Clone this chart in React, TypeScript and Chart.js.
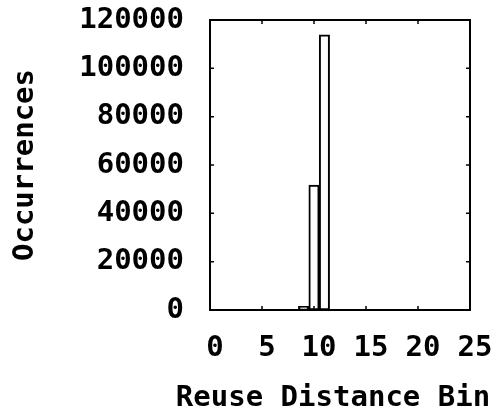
import React, { useEffect, useRef } from "react";
import { Chart, registerables } from "chart.js";

Chart.register(...registerables);

const bins: number[] = [9, 10, 11];
const occurrences: number[] = [1500, 51700, 113900];
const xTicks: number[] = [0, 5, 10, 15, 20, 25];
const yTicks: number[] = [0, 20000, 40000, 60000, 80000, 100000, 120000];
const xTitle = "Reuse Distance Bin";
const yTitle = "Occurrences";

const FONT = "'DejaVu Sans Mono', 'Liberation Mono', monospace";

const framePlugin = {
  id: "frame",
  afterDraw(chart: any) {
    const { ctx, chartArea, scales } = chart;
    const { left, right, top, bottom } = chartArea;
    ctx.save();
    ctx.strokeStyle = "#000";
    ctx.lineWidth = 2;
    ctx.strokeRect(left, top, right - left, bottom - top);
    const tl = 4;
    ctx.lineWidth = 1.5;
    ctx.beginPath();
    for (const v of yTicks) {
      const y = scales.y.getPixelForValue(v);
      ctx.moveTo(left, y);
      ctx.lineTo(left + tl, y);
      ctx.moveTo(right, y);
      ctx.lineTo(right - tl, y);
    }
    for (const v of xTicks) {
      const x = scales.x.getPixelForValue(v);
      ctx.moveTo(x, bottom);
      ctx.lineTo(x, bottom - tl);
      ctx.moveTo(x, top);
      ctx.lineTo(x, top + tl);
    }
    ctx.stroke();
    // x-axis title
    ctx.fillStyle = "#000";
    ctx.font = `bold 29px ${FONT}`;
    ctx.textAlign = "center";
    ctx.textBaseline = "middle";
    ctx.fillText(xTitle, (left + right) / 2 - 7, 398);
    ctx.restore();
  },
};

export default function App() {
  const ref = useRef<HTMLCanvasElement | null>(null);
  useEffect(() => {
    if (!ref.current) return;
    const chart = new Chart(ref.current, {
      type: "bar",
      data: {
        datasets: [
          {
            data: bins.map((b, i) => ({ x: b, y: occurrences[i] })),
            backgroundColor: "#ffffff",
            borderColor: "#000000",
            borderWidth: 2,
            barPercentage: 1,
            categoryPercentage: 1,
            borderSkipped: false,
          },
        ],
      },
      plugins: [framePlugin],
      options: {
        responsive: false,
        animation: false,
        devicePixelRatio: 1,
        layout: { padding: { top: 20, right: 34, left: 0, bottom: 0 } },
        plugins: { legend: { display: false }, tooltip: { enabled: false } },
        scales: {
          x: {
            type: "linear",
            min: 0,
            max: 25,
            offset: false,
            grid: { display: false, offset: false },
            border: { display: false },
            afterBuildTicks: (s: any) => {
              s.ticks = xTicks.map((v) => ({ value: v }));
            },
            afterFit: (s: any) => {
              s.height = 103;
              s.paddingLeft = 0;
              s.paddingRight = 0;
            },
            ticks: {
              color: "#000",
              padding: 13,
              labelOffset: 5,
              maxRotation: 0,
              autoSkip: false,
              font: { family: FONT, size: 29, weight: "bold", lineHeight: 1.2 },
            },
          },
          y: {
            min: 0,
            max: 120000,
            grid: { display: false },
            border: { display: false },
            afterBuildTicks: (s: any) => {
              s.ticks = yTicks.map((v) => ({ value: v }));
            },
            afterFit: (s: any) => {
              s.width = 210;
              s.paddingTop = 0;
              s.paddingBottom = 0;
            },
            ticks: {
              color: "#000",
              padding: 18,
              font: { family: FONT, size: 29, weight: "bold", lineHeight: 1.2 },
              callback: (v: any) => String(v),
            },
            title: {
              display: true,
              text: yTitle,
              color: "#000",
              padding: { top: 8, bottom: 0 },
              font: { family: FONT, size: 29, weight: "bold", lineHeight: 1.2 },
            },
          },
        },
      },
    });
    return () => chart.destroy();
  }, []);
  return (
    <div style={{ position: "absolute", left: 0, top: 0, width: 504, height: 413, background: "#fff" }}>
      <canvas ref={ref} width={504} height={413} style={{ width: 504, height: 413 }} />
    </div>
  );
}
